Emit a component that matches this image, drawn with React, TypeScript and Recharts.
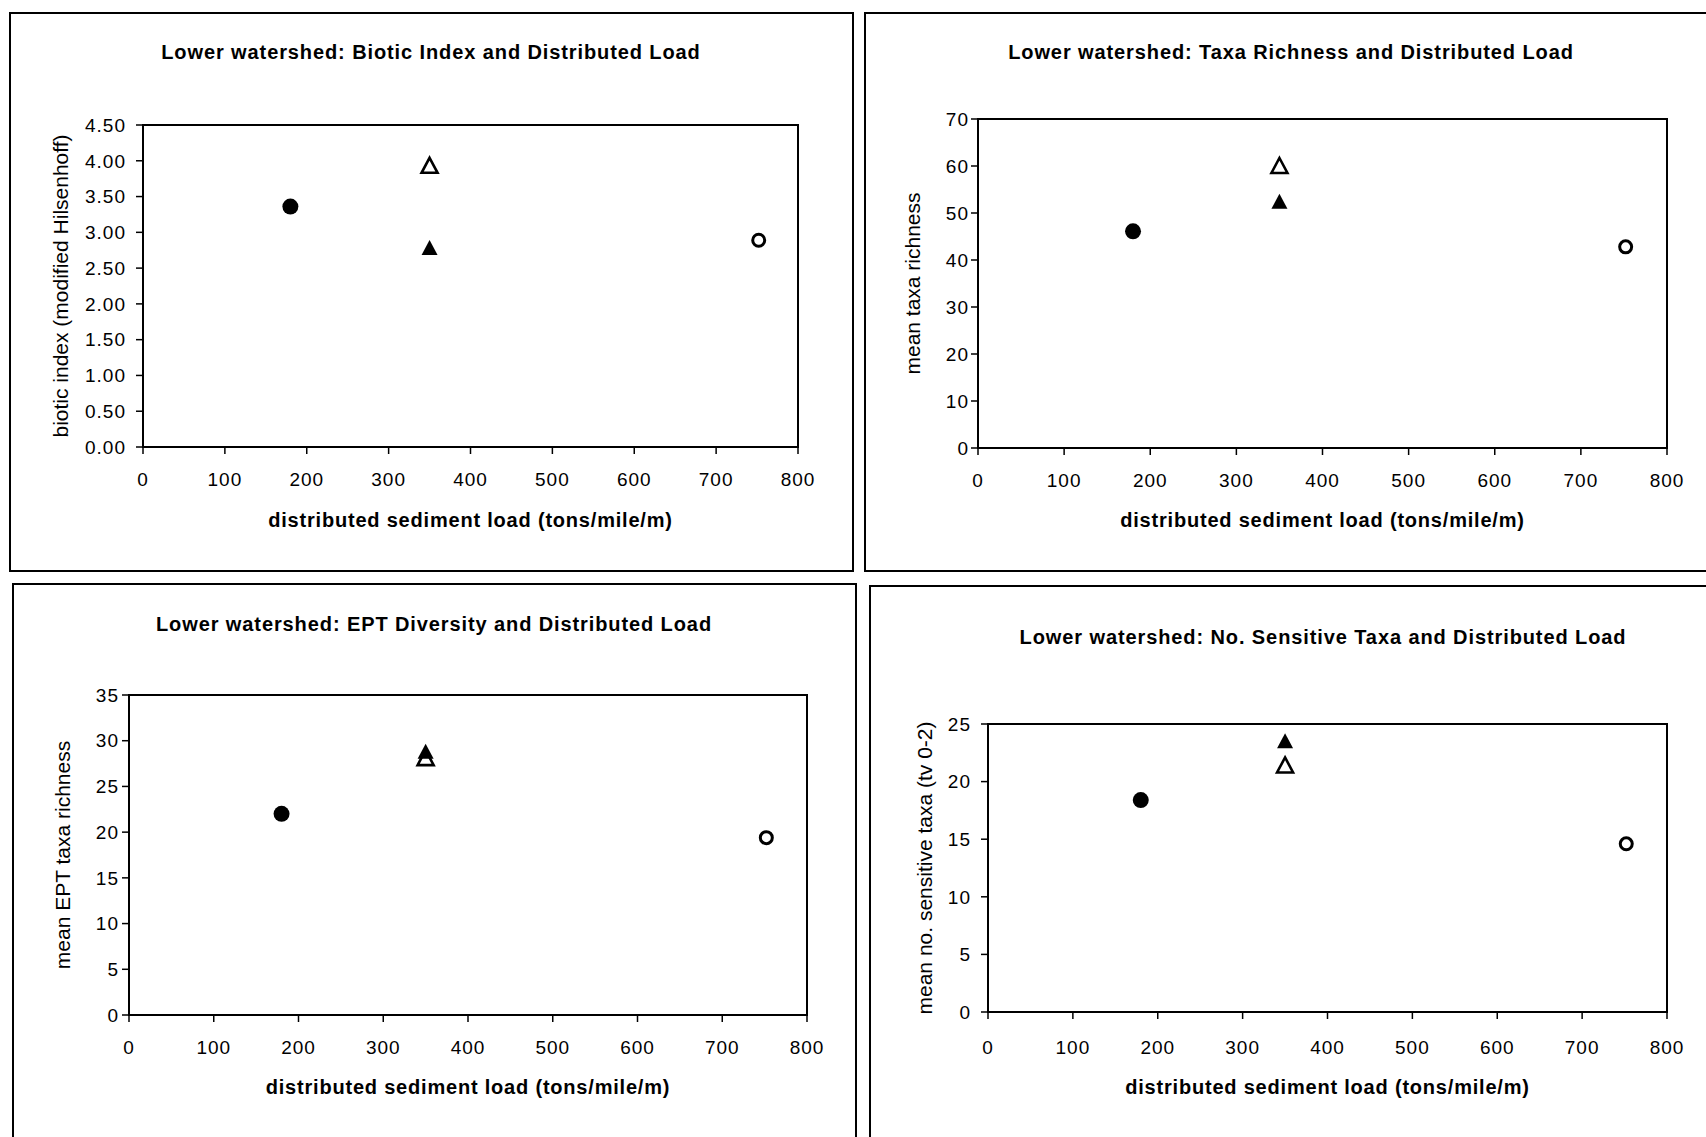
import { ScatterChart, Scatter, XAxis, YAxis, ReferenceArea } from "recharts";

// x position (distributed sediment load) of each marker series
// order: filled circle, open triangle, filled triangle, open circle
const sedimentLoad = [180, 350, 350, 752];

const bioticIndex = [3.36, 3.93, 2.78, 2.89];
const taxaRichness = [46.1, 60.0, 52.4, 42.8];
const eptRichness = [22.0, 28.1, 28.8, 19.4];
const sensitiveTaxa = [18.4, 21.4, 23.5, 14.6];

const xTicks = [0, 100, 200, 300, 400, 500, 600, 700, 800];
const bioticTicks = [0, 0.5, 1, 1.5, 2, 2.5, 3, 3.5, 4, 4.5];
const taxaTicks = [0, 10, 20, 30, 40, 50, 60, 70];
const eptTicks = [0, 5, 10, 15, 20, 25, 30, 35];
const sensitiveTicks = [0, 5, 10, 15, 20, 25];

const FONT = '"Liberation Sans", Arial, sans-serif';

const FilledCircle = (p: any) => <circle cx={p.cx} cy={p.cy} r={8} fill="#000" />;
const OpenCircle = (p: any) => (
  <circle cx={p.cx} cy={p.cy} r={6} fill="#fff" stroke="#000" strokeWidth={3} />
);
const triPoints = (cx: number, cy: number) =>
  `${cx},${cy - 8} ${cx + 8},${cy + 7} ${cx - 8},${cy + 7}`;
const FilledTriangle = (p: any) => <polygon points={triPoints(p.cx, p.cy)} fill="#000" />;
const OpenTriangle = (p: any) => (
  <polygon points={triPoints(p.cx, p.cy)} fill="#fff" stroke="#000" strokeWidth={2.6} />
);

// drawing order: filled triangle last so it sits on top where they overlap
const markerOrder = [
  { idx: 0, shape: FilledCircle },
  { idx: 3, shape: OpenCircle },
  { idx: 1, shape: OpenTriangle },
  { idx: 2, shape: FilledTriangle },
];

const panels = [
  {
    title: "Lower watershed: Biotic Index and Distributed Load",
    yLabel: "biotic index (modified Hilsenhoff)",
    values: bioticIndex, yTicks: bioticTicks, digits: 2,
    box: { left: 9, top: 12, width: 845, height: 560 },
    plot: { left: 134, top: 113, right: 56, bottom: 125 },
    titleX: 422, titleY: 40, yLabelX: 52, yTickMargin: 10, xTickMargin: 19, xTitleOffset: 66,
  },
  {
    title: "Lower watershed: Taxa Richness and Distributed Load",
    yLabel: "mean taxa richness",
    values: taxaRichness, yTicks: taxaTicks, digits: 0,
    box: { left: 864, top: 12, width: 846, height: 560 },
    plot: { left: 114, top: 107, right: 43, bottom: 124 },
    titleX: 427, titleY: 40, yLabelX: 49, yTickMargin: 2, xTickMargin: 19, xTitleOffset: 65,
  },
  {
    title: "Lower watershed: EPT Diversity and Distributed Load",
    yLabel: "mean EPT taxa richness",
    values: eptRichness, yTicks: eptTicks, digits: 0,
    box: { left: 12, top: 583, width: 845, height: 560 },
    plot: { left: 117, top: 112, right: 50, bottom: 128 },
    titleX: 422, titleY: 41, yLabelX: 51, yTickMargin: 3, xTickMargin: 19, xTitleOffset: 65,
  },
  {
    title: "Lower watershed: No. Sensitive Taxa and Distributed Load",
    yLabel: "mean no. sensitive taxa (tv 0-2)",
    values: sensitiveTaxa, yTicks: sensitiveTicks, digits: 0,
    box: { left: 869, top: 585, width: 841, height: 560 },
    plot: { left: 119, top: 139, right: 43, bottom: 133 },
    titleX: 454, titleY: 52, yLabelX: 56, yTickMargin: 10, xTickMargin: 22, xTitleOffset: 68,
  },
];

const tickStyle = { fill: "#000", fontSize: 19, fontFamily: FONT, letterSpacing: 1 };

function Panel({ cfg }: { cfg: (typeof panels)[number] }) {
  const { box, plot } = cfg;
  const yMax = cfg.yTicks[cfg.yTicks.length - 1];
  return (
    <div style={{ position: "absolute", left: box.left, top: box.top, width: box.width, height: box.height }}>
      <div
        style={{
          position: "absolute", inset: 0, border: "2px solid #000", boxSizing: "border-box",
        }}
      />
      <div
        style={{
          position: "absolute", left: cfg.titleX - 400, top: cfg.titleY - 12, width: 800,
          lineHeight: "24px", textAlign: "center", fontFamily: FONT, fontWeight: "bold",
          fontSize: 20, letterSpacing: 0.9, color: "#000",
        }}
      >
        {cfg.title}
      </div>
      <div style={{ position: "absolute", left: 0, top: 0 }}>
        <ScatterChart
          width={box.width}
          height={box.height}
          margin={{ top: plot.top, right: plot.right, left: 0, bottom: 0 }}
        >
          <XAxis
            type="number" dataKey="x" domain={[0, 800]} ticks={xTicks} interval={0}
            height={plot.bottom} tickSize={7} tickMargin={cfg.xTickMargin}
            axisLine={{ stroke: "#000", strokeWidth: 2 }} tickLine={{ stroke: "#000", strokeWidth: 1.5 }}
            tick={tickStyle}
            label={{
              value: "distributed sediment load (tons/mile/m)", position: "insideTop",
              offset: cfg.xTitleOffset,
              style: { fill: "#000", fontSize: 20, fontWeight: "bold", fontFamily: FONT, letterSpacing: 0.8 },
            }}
          />
          <YAxis
            type="number" dataKey="y" domain={[0, yMax]} ticks={cfg.yTicks} interval={0}
            width={plot.left} tickSize={7} tickMargin={cfg.yTickMargin}
            tickFormatter={(v: number) => v.toFixed(cfg.digits)}
            axisLine={{ stroke: "#000", strokeWidth: 2 }} tickLine={{ stroke: "#000", strokeWidth: 1.5 }}
            tick={tickStyle}
            label={{
              value: cfg.yLabel, angle: -90, position: "insideLeft", offset: cfg.yLabelX,
              style: { textAnchor: "middle", fill: "#000", fontSize: 21, fontFamily: FONT },
            }}
          />
          <ReferenceArea x1={0} x2={800} y1={0} y2={yMax} fill="none" stroke="#000" strokeWidth={2} />
          {markerOrder.map((m) => (
            <Scatter
              key={m.idx}
              data={[{ x: sedimentLoad[m.idx], y: cfg.values[m.idx] }]}
              shape={m.shape}
              isAnimationActive={false}
            />
          ))}
        </ScatterChart>
      </div>
    </div>
  );
}

export default function App() {
  return (
    <div
      style={{
        position: "absolute", left: 0, top: 0, width: 1706, height: 1137, overflow: "hidden",
        background: "#fff",
      }}
    >
      {panels.map((p) => (
        <Panel key={p.title} cfg={p} />
      ))}
    </div>
  );
}
